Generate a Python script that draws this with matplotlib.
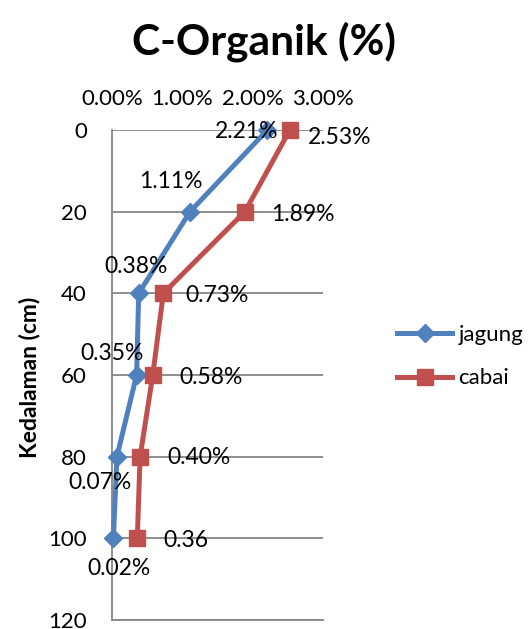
import matplotlib
matplotlib.use("Agg")
import matplotlib.pyplot as plt
from matplotlib.ticker import FuncFormatter

plt.rcParams['font.family'] = ['Lato', 'DejaVu Sans']

# Soil depth (cm) and organic carbon content (%)
depth = [0, 20, 40, 60, 80, 100]
jagung = [2.21, 1.11, 0.38, 0.35, 0.07, 0.02]
cabai = [2.53, 1.89, 0.73, 0.58, 0.40, 0.36]
jagung_labels = ["2.21%", "1.11%", "0.38%", "0.35%", "0.07%", "0.02%"]
cabai_labels = ["2.53%", "1.89%", "0.73%", "0.58%", "0.40%", "0.36"]
x_ticks = [0.0, 1.0, 2.0, 3.0]
y_ticks = [0, 20, 40, 60, 80, 100, 120]

BLUE = "#4F81BD"
RED = "#C0504D"
GRID = "#868686"

fig = plt.figure(figsize=(5.32, 6.29), dpi=100)
ax = fig.add_axes([0.2105, 0.0143, 0.3965, 0.779])

ax.set_xlim(0, 3.0)
ax.set_ylim(120, 0)
ax.set_xticks(x_ticks)
ax.set_yticks(y_ticks)
ax.xaxis.set_major_formatter(FuncFormatter(lambda v, p: f"{v:.2f}%"))
ax.xaxis.tick_top()
ax.tick_params(axis='both', length=0, labelsize=16)
ax.tick_params(axis='x', pad=15)
ax.tick_params(axis='y', pad=18)

for s in ['top', 'right']:
    ax.spines[s].set_visible(False)
for s in ['left', 'bottom']:
    ax.spines[s].set_color(GRID)
    ax.spines[s].set_linewidth(1.3)
ax.yaxis.grid(True, color=GRID, linewidth=1.3)
ax.set_axisbelow(True)

l1, = ax.plot(jagung, depth, color=BLUE, lw=3.6, marker='D', ms=9,
              label='jagung', clip_on=False, zorder=3)
l2, = ax.plot(cabai, depth, color=RED, lw=3.6, marker='s', ms=11,
              label='cabai', clip_on=False, zorder=3)

# data label offsets in pixels (dx, dy) from each point, dy upward
j_off = [(-21, -1), (-19, 30), (-3, 27), (-25, 22), (-17, -26), (6, -30)]
c_off = [(50, -7), (58, -3), (54, -2), (58, -2), (59, -1), (49, -2)]
for x, y, t, o in zip(jagung, depth, jagung_labels, j_off):
    ax.annotate(t, (x, y), xytext=o, textcoords='offset pixels',
                ha='center', va='center', fontsize=16.5, annotation_clip=False)
for x, y, t, o in zip(cabai, depth, cabai_labels, c_off):
    ax.annotate(t, (x, y), xytext=o, textcoords='offset pixels',
                ha='center', va='center', fontsize=16.5, annotation_clip=False)

fig.text(0.497, 0.934, "C-Organik (%)", ha='center', va='center',
         fontsize=30.6, fontweight='bold')
fig.text(0.056, 0.4006, "Kedalaman (cm)", ha='center', va='center',
         rotation=90, fontsize=16.5, fontweight='bold')

fig.legend(handles=[l1, l2], loc='center left',
           bbox_to_anchor=(0.746, 0.433), frameon=False, fontsize=16,
           borderpad=0, borderaxespad=0,
           handlelength=2.5, handletextpad=0.27, labelspacing=1.05)

fig.savefig("out.png", dpi=100)
